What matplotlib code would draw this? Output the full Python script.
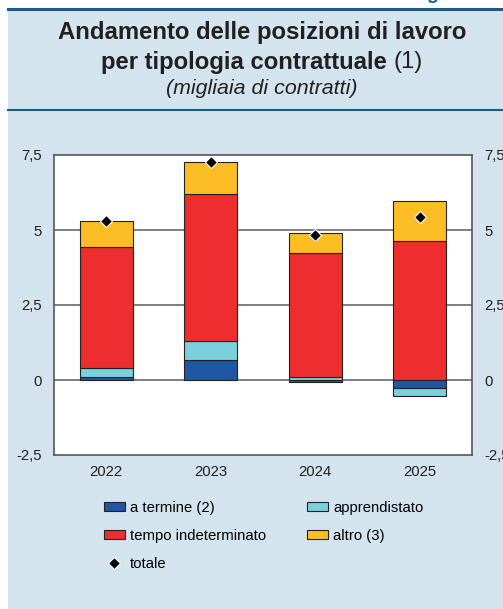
import matplotlib
matplotlib.use("Agg")
import matplotlib.pyplot as plt
import numpy as np
from matplotlib.patches import Rectangle
from matplotlib.lines import Line2D

plt.rcParams['font.family'] = ['Liberation Sans', 'DejaVu Sans']

years = ['2022', '2023', '2024', '2025']
a_termine = [0.10, 0.67, -0.07, -0.26]
apprendistato = [0.30, 0.64, 0.11, -0.27]
tempo_indet = [4.03, 4.89, 4.12, 4.63]
altro = [0.86, 1.08, 0.66, 1.35]
totale = [5.30, 7.27, 4.83, 5.44]

yticks = [-2.5, 0, 2.5, 5, 7.5]
ytick_labels = ['-2,5', '0', '2,5', '5', '7,5']

series = [
    ('a termine (2)', a_termine, '#1f56a5'),
    ('apprendistato', apprendistato, '#7ccfdc'),
    ('tempo indeterminato', tempo_indet, '#ee2e2e'),
    ('altro (3)', altro, '#fdbd24'),
]

W, H = 503, 609
fig = plt.figure(figsize=(W / 100, H / 100), dpi=100)
fig.patch.set_facecolor('white')
bg = '#d3e4ee'
line_c = '#1b5d80'
fig.patches.append(Rectangle((8 / W, 0), 1, 1 - 8 / H, transform=fig.transFigure,
                             facecolor=bg, edgecolor='none', zorder=-10))
fig.add_artist(Line2D([8 / W, 1], [1 - 9 / H, 1 - 9 / H], color=line_c, lw=2.2))
fig.add_artist(Line2D([8 / W, 1], [1 - 110 / H, 1 - 110 / H], color=line_c, lw=1.5))
fig.text(1.0, 1 - 3 / H, 'Figura 8.1', color='#14628f', fontsize=14, fontweight='bold',
         fontstyle='italic', ha='right', va='bottom')

cx = 262 / W
tsize = 17.2
fig.text(cx, 1 - 33 / H, 'Andamento delle posizioni di lavoro', ha='center', va='center',
         fontsize=tsize, fontweight='bold', color='#231f20')
renderer = fig.canvas.get_renderer()
ta = fig.text(0, 1 - 62 / H, 'per tipologia contrattuale ', ha='left', va='center',
              fontsize=tsize, fontweight='bold', color='#231f20')
tb = fig.text(0, 1 - 62 / H, '(1)', ha='left', va='center', fontsize=tsize,
              color='#231f20')
wa = ta.get_window_extent(renderer).width
wb = tb.get_window_extent(renderer).width
x0 = cx * W - (wa + wb) / 2
ta.set_x(x0 / W)
tb.set_x((x0 + wa) / W)
fig.text(cx, 1 - 88 / H, '(migliaia di contratti)', ha='center', va='center',
         fontsize=15.4, fontstyle='italic', color='#231f20')

ax = fig.add_axes([54 / W, 1 - 455 / H, (472 - 54) / W, (455 - 155) / H])
ax.set_facecolor('white')
x = np.arange(len(years))
pos = np.zeros(len(years))
neg = np.zeros(len(years))
handles = {}
for name, vals, col in series:
    vals = np.array(vals)
    bottoms = np.where(vals >= 0, pos, neg)
    b = ax.bar(x, vals, width=0.51, bottom=bottoms, color=col, edgecolor='#222222',
               linewidth=0.8, zorder=3, label=name)
    handles[name] = b
    pos = pos + np.where(vals >= 0, vals, 0)
    neg = neg + np.where(vals < 0, vals, 0)
tot = ax.plot(x, totale, linestyle='none', marker='D', markersize=6.5, color='black',
              markeredgecolor='white', markeredgewidth=0.8, zorder=5, label='totale')[0]

ax.set_xlim(-0.5, 3.5)
ax.set_ylim(-2.5, 7.5)
ax.set_xticks(x)
ax.set_xticklabels(years)
ax.set_yticks(yticks)
ax.set_yticklabels(ytick_labels)
for yv in [0, 2.5, 5]:
    ax.axhline(yv, color='#6a6a6a', lw=1.2, zorder=1)
ax.tick_params(axis='both', length=0, labelsize=10.7, colors='#231f20')
ax.tick_params(axis='x', pad=7)
ax.tick_params(axis='y', pad=9, labelleft=True, labelright=True)
ax.yaxis.set_tick_params(which='both', pad=9)
for lab in ax.get_yticklabels(which='major'):
    pass
for sp in ax.spines.values():
    sp.set_color('#555555')
    sp.set_linewidth(1.2)

hl = [handles['a termine (2)'], handles['tempo indeterminato'], tot,
      handles['apprendistato'], handles['altro (3)']]
ll = ['a termine (2)', 'tempo indeterminato', 'totale', 'apprendistato', 'altro (3)']
leg = fig.legend(hl, ll, ncol=2, loc='upper left', bbox_to_anchor=(98 / W, 1 - 495 / H),
                 frameon=False, fontsize=10.7, handlelength=1.4, handleheight=0.5,
                 labelspacing=0.93, columnspacing=2.75, handletextpad=0.35,
                 borderaxespad=0)

fig.savefig('out.png', dpi=100, facecolor=fig.get_facecolor())
